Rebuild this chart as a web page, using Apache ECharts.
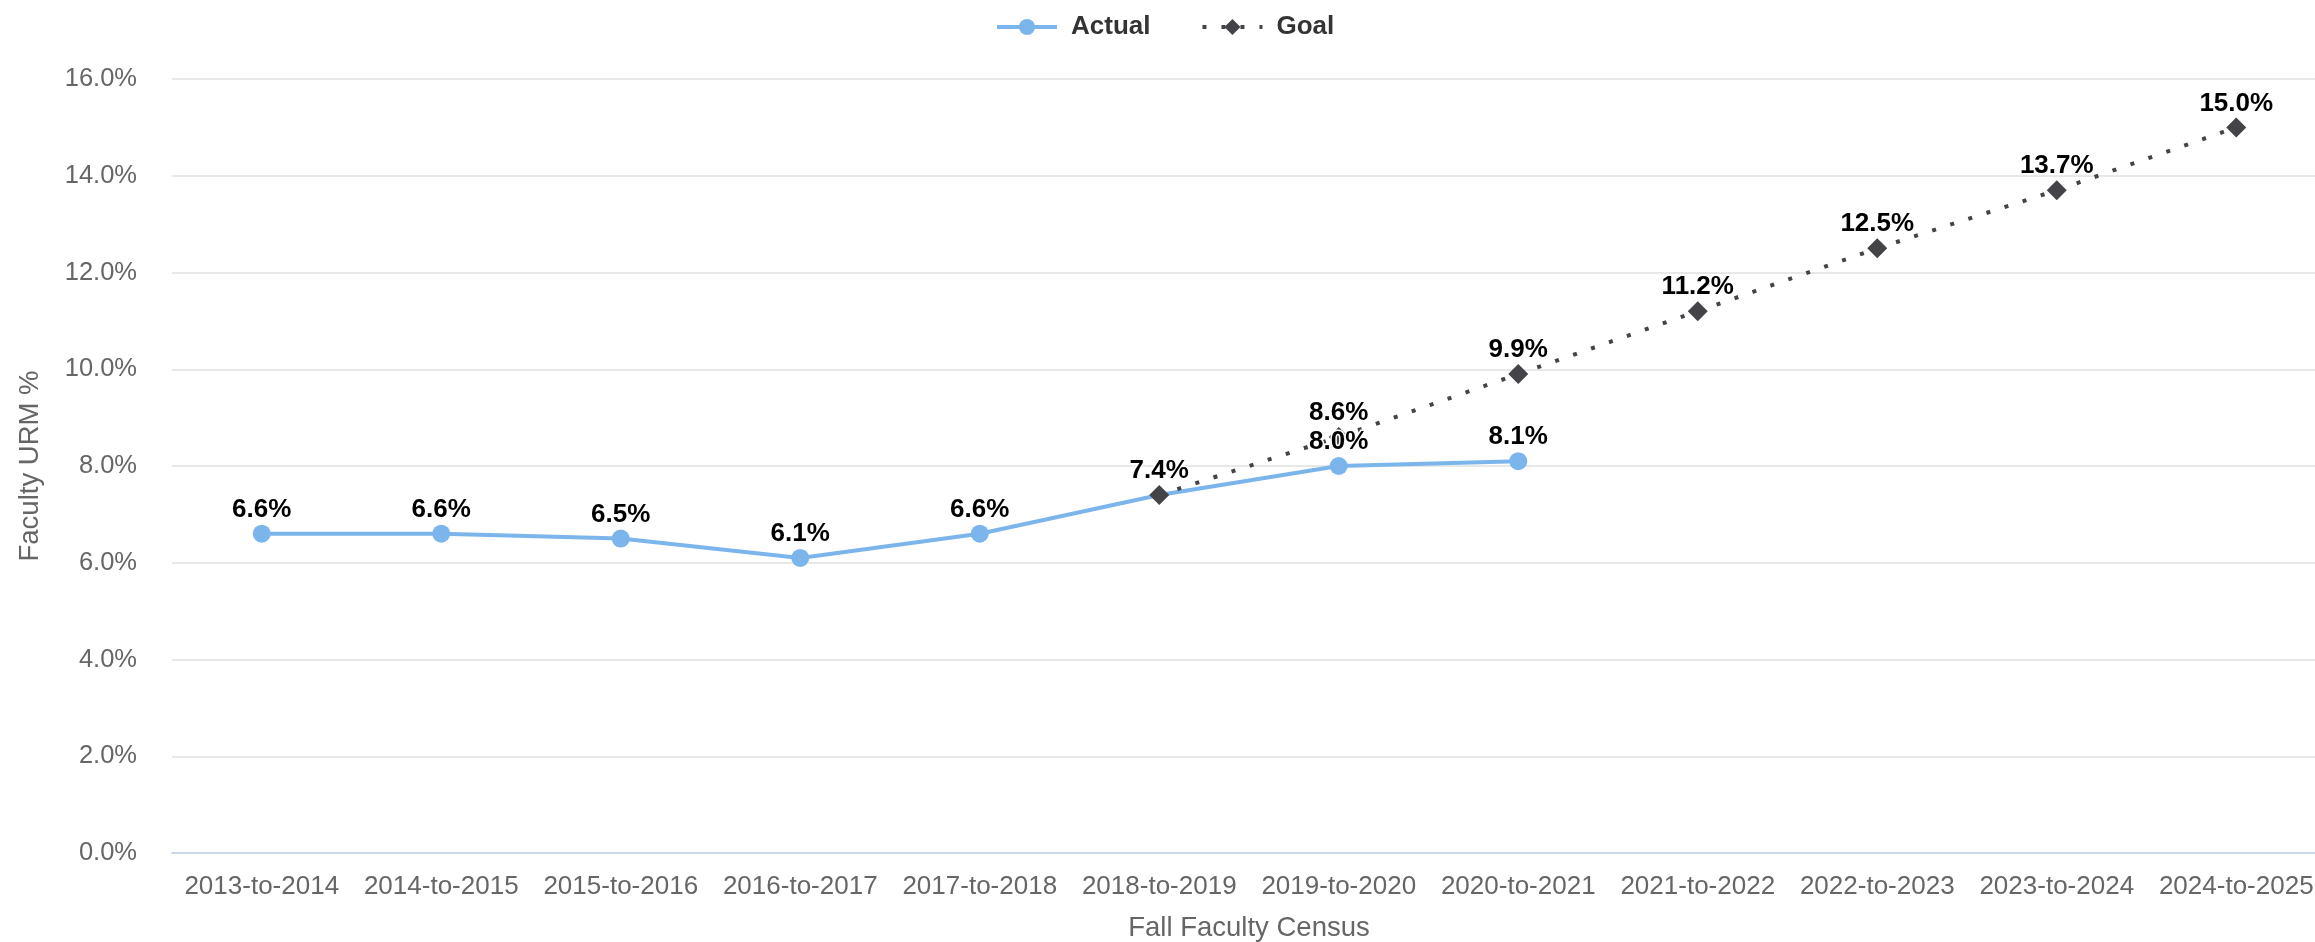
<!DOCTYPE html>
<html>
<head>
<meta charset="utf-8">
<script src="https://cdn.jsdelivr.net/npm/echarts@6/dist/echarts.min.js"></script>
<style>
html,body{margin:0;padding:0;background:#fff;}
#chart{width:2315px;height:942px;}
</style>
</head>
<body>
<div id="chart"></div>
<script>
const categories = ['2013-to-2014','2014-to-2015','2015-to-2016','2016-to-2017','2017-to-2018','2018-to-2019','2019-to-2020','2020-to-2021','2021-to-2022','2022-to-2023','2023-to-2024','2024-to-2025'];
const actualValues = [6.6, 6.6, 6.5, 6.1, 6.6, 7.4, 8.0, 8.1, null, null, null, null];
const goalValues = [null, null, null, null, null, 7.4, 8.6, 9.9, 11.2, 12.5, 13.7, 15.0];
const yTicks = [0, 2, 4, 6, 8, 10, 12, 14, 16];

const FONT = '"Liberation Sans", Arial, sans-serif';
const pct = v => Number(v).toFixed(1) + '%';

const actualData = actualValues.map((v, i) => {
  if (v != null && goalValues[i] != null && goalValues[i] === v) {
    return { value: v, symbol: 'none', label: { show: false } };
  }
  return v;
});

const chart = echarts.init(document.getElementById('chart'), null, { renderer: 'canvas' });
chart.setOption({
  animation: false,
  backgroundColor: '#ffffff',
  textStyle: { fontFamily: FONT },
  legend: {
    left: 995,
    top: 14,
    padding: 0,
    itemWidth: 60,
    itemHeight: 20,
    itemGap: 50,
    lineStyle: { width: 4 },
    textStyle: { fontSize: 26, fontWeight: 'bold', color: '#333333', fontFamily: FONT, padding: [0, 0, 0, 9] },
    data: ['Actual', 'Goal']
  },
  grid: { left: 172, top: 79, width: 2154, height: 774, containLabel: false, outerBoundsMode: 'none' },
  xAxis: {
    type: 'category',
    data: categories,
    boundaryGap: true,
    axisLine: { lineStyle: { color: '#ccd6eb', width: 2 } },
    axisTick: { show: false },
    axisLabel: { color: '#666666', fontSize: 26, margin: 21, fontFamily: FONT, interval: 0 },
    name: 'Fall Faculty Census',
    nameLocation: 'middle',
    nameGap: 61,
    nameTextStyle: { color: '#666666', fontSize: 27.5, fontFamily: FONT }
  },
  yAxis: {
    type: 'value',
    min: yTicks[0],
    max: yTicks[yTicks.length - 1],
    interval: yTicks[1] - yTicks[0],
    axisLine: { show: false },
    axisTick: { show: false },
    splitLine: { lineStyle: { color: '#e0e0e0', width: 1.5 } },
    axisLabel: { color: '#666666', fontSize: 25.5, margin: 35, fontFamily: FONT, formatter: v => pct(v) },
    name: 'Faculty URM %',
    nameLocation: 'middle',
    nameGap: 128,
    nameTextStyle: { color: '#666666', fontSize: 27.5, fontFamily: FONT }
  },
  series: [
    {
      name: 'Actual',
      type: 'line',
      data: actualData,
      color: '#7cb5ec',
      symbol: 'circle',
      symbolSize: 18,
      lineStyle: { color: '#7cb5ec', width: 4 },
      itemStyle: { color: '#7cb5ec' },
      label: {
        show: true, position: 'top', distance: 2,
        fontSize: 26, fontWeight: 'bold', color: '#000000', fontFamily: FONT,
        textBorderColor: '#ffffff', textBorderWidth: 3,
        formatter: p => pct(p.value)
      }
    },
    {
      name: 'Goal',
      type: 'line',
      data: goalValues,
      color: '#434348',
      symbol: 'diamond',
      symbolSize: 20,
      lineStyle: { color: '#434348', width: 4, type: [4, 15] },
      itemStyle: { color: '#434348' },
      label: {
        show: true, position: 'top', distance: 1,
        fontSize: 26, fontWeight: 'bold', color: '#000000', fontFamily: FONT,
        textBorderColor: '#ffffff', textBorderWidth: 3,
        formatter: p => pct(p.value)
      }
    }
  ]
});
</script>
</body>
</html>
